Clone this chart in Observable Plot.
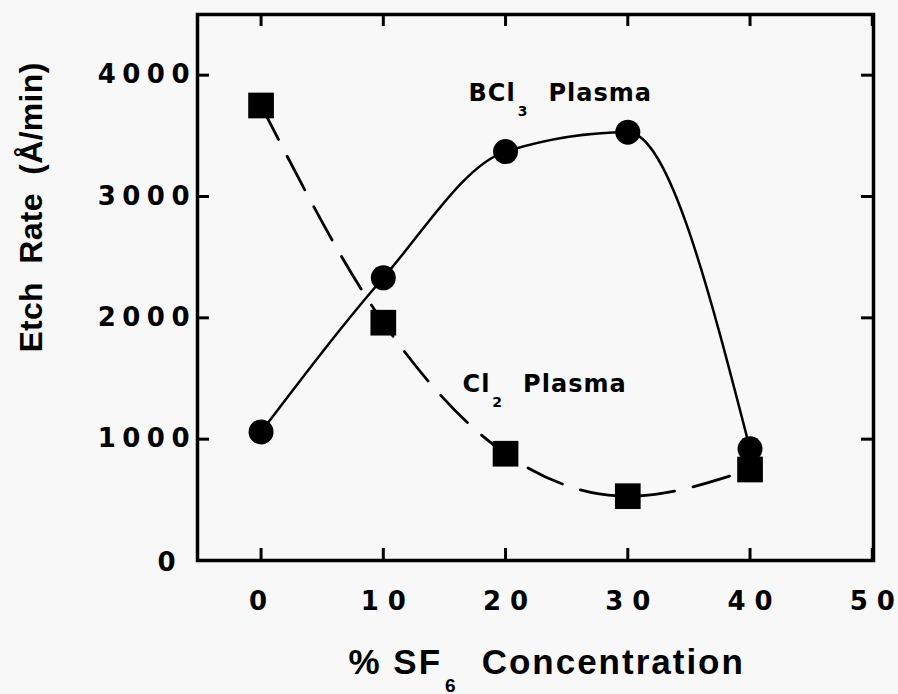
<!DOCTYPE html>
<html>
<head>
<meta charset="utf-8">
<script src="https://cdn.jsdelivr.net/npm/d3@7"></script>
<script src="https://cdn.jsdelivr.net/npm/@observablehq/plot@0.6"></script>
<style>
  html, body { margin: 0; padding: 0; background: #f8f8f8; }
  #chart { width: 898px; height: 694px; }
</style>
</head>
<body>
<div id="chart"></div>
<script>
// Data
const concentration = [0, 10, 20, 30, 40];          // % SF6
const bcl3Rate = [1060, 2330, 3370, 3530, 920];      // Å/min, BCl3 plasma (circles, solid)
const cl2Rate  = [3750, 1960, 880, 530, 750];        // Å/min, Cl2 plasma (squares, dashed)
const xTicks = [0, 10, 20, 30, 40, 50];
const yTicks = [0, 1000, 2000, 3000, 4000];

const bcl3 = concentration.map((x, i) => ({x, y: bcl3Rate[i]}));
const cl2  = concentration.map((x, i) => ({x, y: cl2Rate[i]}));

const W = 898, H = 694, mL = 197, mR = 25, mT = 14, mB = 134;
const plotW = W - mL - mR, plotH = H - mT - mB;
const tick = 12;
const sans = "DejaVu Sans, Liberation Sans, Arial, sans-serif";
const helv = "Liberation Sans, Arial, Helvetica, sans-serif";

const chart = Plot.plot({
  width: W, height: H,
  marginLeft: mL, marginRight: mR, marginTop: mT, marginBottom: mB,
  style: {background: "#f8f8f8", fontFamily: sans, fontWeight: "bold", color: "black"},
  x: {domain: [-5.2, 50.1]},
  y: {domain: [0, 4500]},
  marks: [
    Plot.frame({stroke: "black", strokeWidth: 3.5}),
    // inward ticks on all four sides
    Plot.tickX(xTicks, {x: d => d, insetTop: plotH - tick, stroke: "black", strokeWidth: 3}),
    Plot.tickX(xTicks, {x: d => d, insetBottom: plotH - tick, stroke: "black", strokeWidth: 3}),
    Plot.tickY(yTicks, {y: d => d, insetRight: plotW - tick, stroke: "black", strokeWidth: 3}),
    Plot.tickY(yTicks, {y: d => d, insetLeft: plotW - tick, stroke: "black", strokeWidth: 3}),
    Plot.axisX(xTicks.filter(d => d !== 0), {tickSize: 0, tickPadding: 31, fontSize: 26, label: null, tickFormat: d => String(d)}),
    Plot.axisX(xTicks.filter(d => d === 0), {tickSize: 0, tickPadding: 31, fontSize: 26, label: null, dx: -3, tickFormat: d => String(d)}),
    Plot.axisY(yTicks.filter(d => d !== 0), {tickSize: 0, tickPadding: 8, fontSize: 26, label: null, tickFormat: d => String(d)}),
    Plot.axisY(yTicks.filter(d => d === 0), {tickSize: 0, tickPadding: 22, fontSize: 26, label: null, dy: 2, tickFormat: d => String(d)}),
    // curves
    Plot.line(bcl3, {x: "x", y: "y", curve: "monotone-x", stroke: "black", strokeWidth: 2.5}),
    Plot.line(cl2, {x: "x", y: "y", curve: "monotone-x", stroke: "black", strokeWidth: 2.8, strokeDasharray: "38,19"}),
    Plot.dot(bcl3, {x: "x", y: "y", r: 12.5, fill: "black", stroke: "none"}),
    Plot.dot(cl2, {x: "x", y: "y", r: 14.5, symbol: "square", fill: "black", stroke: "none"}),
    // series labels
    Plot.text(["BCl3 Plasma"], {x: 16.97, y: 3850, textAnchor: "start", fontSize: 24, fontWeight: "bold"}),
    Plot.text(["Cl2 Plasma"], {x: 16.48, y: 1450, textAnchor: "start", fontSize: 24, fontWeight: "bold"}),
    // axis titles
    Plot.text(["Etch  Rate  (Å/min)"], {frameAnchor: "left", dx: -166, dy: -80, rotate: -90, fontSize: 32, fontWeight: "bold", textAnchor: "middle", fontFamily: helv}),
    Plot.text(["% SF6 Concentration"], {frameAnchor: "bottom", dx: -187, dy: 113, fontSize: 35, fontWeight: "bold", textAnchor: "start", fontFamily: helv})
  ]
});

document.getElementById("chart").appendChild(chart);

const ns = "http://www.w3.org/2000/svg";

// wide spacing between digits of tick labels (no trailing space)
function spaceChars(selector, gap) {
  chart.querySelectorAll(selector).forEach(t => {
    const s = t.textContent;
    while (t.firstChild) t.removeChild(t.firstChild);
    [...s].forEach((ch, i) => {
      const sp = document.createElementNS(ns, "tspan");
      sp.textContent = ch;
      if (i > 0) sp.setAttribute("dx", gap);
      t.appendChild(sp);
    });
  });
}
spaceChars('g[aria-label="y-axis tick label"] text', 6.5);
spaceChars('g[aria-label="x-axis tick label"] text', 9);

// subscripts
function subscript(full, main, sub, rest, subSize, subDy, subDx, gap, spacing) {
  chart.querySelectorAll("text").forEach(t => {
    if (t.textContent !== full) return;
    while (t.firstChild) t.removeChild(t.firstChild);
    if (spacing) t.style.letterSpacing = spacing + "px";
    const a = document.createElementNS(ns, "tspan"); a.textContent = main;
    const b = document.createElementNS(ns, "tspan"); b.textContent = sub;
    b.setAttribute("font-size", subSize); b.setAttribute("dy", subDy); b.setAttribute("dx", subDx);
    const c = document.createElementNS(ns, "tspan"); c.textContent = rest;
    c.setAttribute("dy", -subDy); c.setAttribute("dx", gap);
    t.appendChild(a); t.appendChild(b); t.appendChild(c);
  });
}
subscript("BCl3 Plasma", "BCl", "3", "Plasma", 14, 15, 2, 20, 1);
subscript("Cl2 Plasma", "Cl", "2", "Plasma", 14, 15, 2, 20, 1);
subscript("% SF6 Concentration", "% SF", "6", "Concentration", 19, 18, 3, 24, 2);
chart.querySelectorAll("text").forEach(t => {
  if (t.textContent === "Etch  Rate  (Å/min)") t.style.letterSpacing = "0.3px";
});
</script>
</body>
</html>
